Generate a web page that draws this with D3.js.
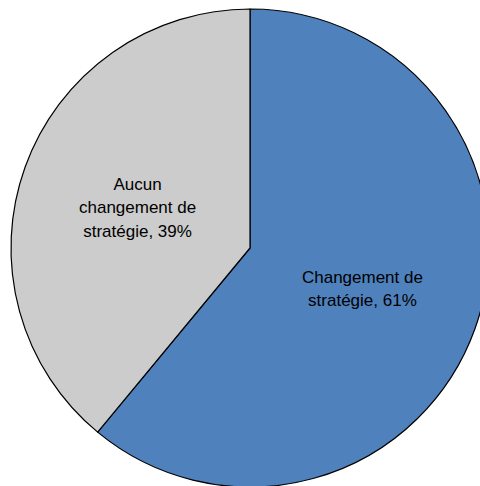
<!DOCTYPE html>
<html>
<head>
<meta charset="utf-8">
<script src="https://cdn.jsdelivr.net/npm/d3@7"></script>
<style>
  html, body { margin: 0; padding: 0; background: #fff; }
  svg { display: block; }
</style>
</head>
<body>
<svg id="chart" width="480" height="486"></svg>
<script>
// Share of respondents by strategy outcome
const categories = ["Changement de stratégie", "Aucun changement de stratégie"];
const values = [61, 39];
const labelLines = [
  ["Changement de", "stratégie, 61%"],
  ["Aucun", "changement de", "stratégie, 39%"]
];
const colors = ["#4F81BD", "#CCCCCC"];

const data = categories.map((c, i) => ({ name: c, value: values[i], lines: labelLines[i], color: colors[i] }));

const svg = d3.select("#chart");
const cx = 250, cy = 248, radius = 239;

const pie = d3.pie().value(d => d.value).sort(null);
const arc = d3.arc().innerRadius(0).outerRadius(radius);

const g = svg.append("g").attr("transform", `translate(${cx},${cy})`);

const slices = g.selectAll("g.slice").data(pie(data)).join("g").attr("class", "slice");

slices.append("path")
  .attr("d", arc)
  .attr("fill", d => d.data.color)
  .attr("stroke", "#000")
  .attr("stroke-width", 1.2)
  .attr("stroke-linejoin", "round");

const lineH = 23.5;
slices.append("text")
  .attr("transform", d => `translate(${arc.centroid(d)})`)
  .attr("text-anchor", "middle")
  .attr("font-family", "'Liberation Sans', Arial, sans-serif")
  .attr("font-size", 17)
  .attr("fill", "#000")
  .each(function(d) {
    const n = d.data.lines.length;
    d3.select(this).selectAll("tspan").data(d.data.lines).join("tspan")
      .attr("x", 0)
      .attr("y", (l, i) => (i - (n - 1) / 2) * lineH)
      .attr("dy", "0.35em")
      .text(l => l);
  });
</script>
</body>
</html>
